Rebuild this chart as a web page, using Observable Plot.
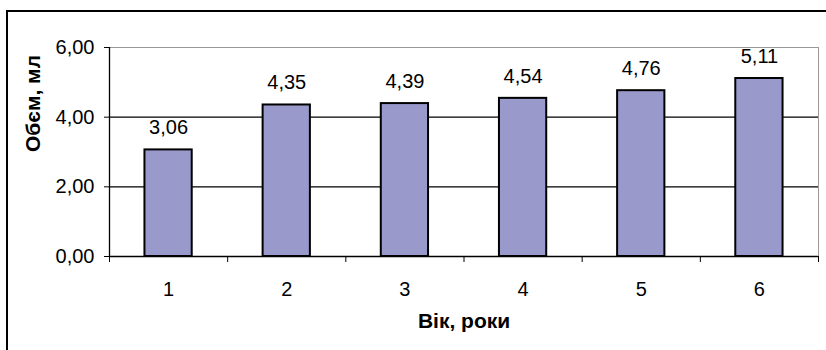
<!DOCTYPE html>
<html>
<head>
<meta charset="utf-8">
<script src="https://cdn.jsdelivr.net/npm/d3@7"></script>
<script src="https://cdn.jsdelivr.net/npm/@observablehq/plot@0.6"></script>
<style>
  html, body { margin: 0; padding: 0; background: #fff; }
  #wrap { position: relative; width: 826px; height: 350px; overflow: hidden; }
  #edge { position: absolute; left: 6px; top: 10px; width: 840px; height: 360px;
          border-left: 2px solid #000; border-top: 2px solid #000; box-sizing: border-box; }
  #chart { position: absolute; left: 0; top: 0; }
</style>
</head>
<body>
<div id="wrap"><div id="edge"></div><div id="chart"></div></div>
<script>
// Lung volume by age
const ages = [1, 2, 3, 4, 5, 6];
const volumes = [3.06, 4.35, 4.39, 4.54, 4.76, 5.11];
const yTicks = [0, 2, 4, 6];
const xLabel = "Вік, роки";
const yLabel = "Обєм, мл";

const data = ages.map((a, i) => ({age: a, vol: volumes[i]}));
const bounds = d3.range(0.5, ages.length + 1, 1);
const comma = (v, n) => v.toFixed(n).replace(".", ",");
const barHalf = 0.2;

const plot = Plot.plot({
  width: 826,
  height: 350,
  marginLeft: 109,
  marginRight: 8,
  marginTop: 47,
  marginBottom: 94,
  style: {fontFamily: "'Liberation Sans', Arial, sans-serif", fontSize: "20px", color: "#000", background: "transparent"},
  x: {domain: [0.5, ages.length + 0.5]},
  y: {domain: [0, 6]},
  marks: [
    Plot.frame({stroke: "#999"}),
    Plot.ruleY(yTicks.filter(t => t > 0 && t < 6), {stroke: "#000", strokeWidth: 1.2}),
    Plot.rectY(data, {
      x1: d => d.age - barHalf, x2: d => d.age + barHalf, y: "vol",
      fill: "#9999cc", stroke: "#000", strokeWidth: 2
    }),
    Plot.ruleY([0], {stroke: "#000", strokeWidth: 1.3}),
    Plot.ruleX([0.5], {stroke: "#000", strokeWidth: 1.3}),
    Plot.axisY({ticks: yTicks, tickSize: 5, tickPadding: 10, tickFormat: v => comma(v, 2), label: null, fontSize: 20}),
    Plot.axisX({ticks: bounds, tickSize: 6, tickFormat: () => "", label: null}),
    Plot.axisX({ticks: ages, tickSize: 0, tickPadding: 25, tickFormat: d => String(d), label: null, fontSize: 20}),
    Plot.text(data, {x: "age", y: "vol", text: d => comma(d.vol, 2), dy: -22, fontSize: 20}),
    Plot.text([xLabel], {text: d => d, frameAnchor: "bottom", dy: 71, fontWeight: "bold", fontSize: 21}),
    Plot.text([yLabel], {text: d => d, frameAnchor: "left", dx: -76, rotate: -90, fontWeight: "bold", fontSize: 21})
  ]
});
document.getElementById("chart").appendChild(plot);
</script>
</body>
</html>
